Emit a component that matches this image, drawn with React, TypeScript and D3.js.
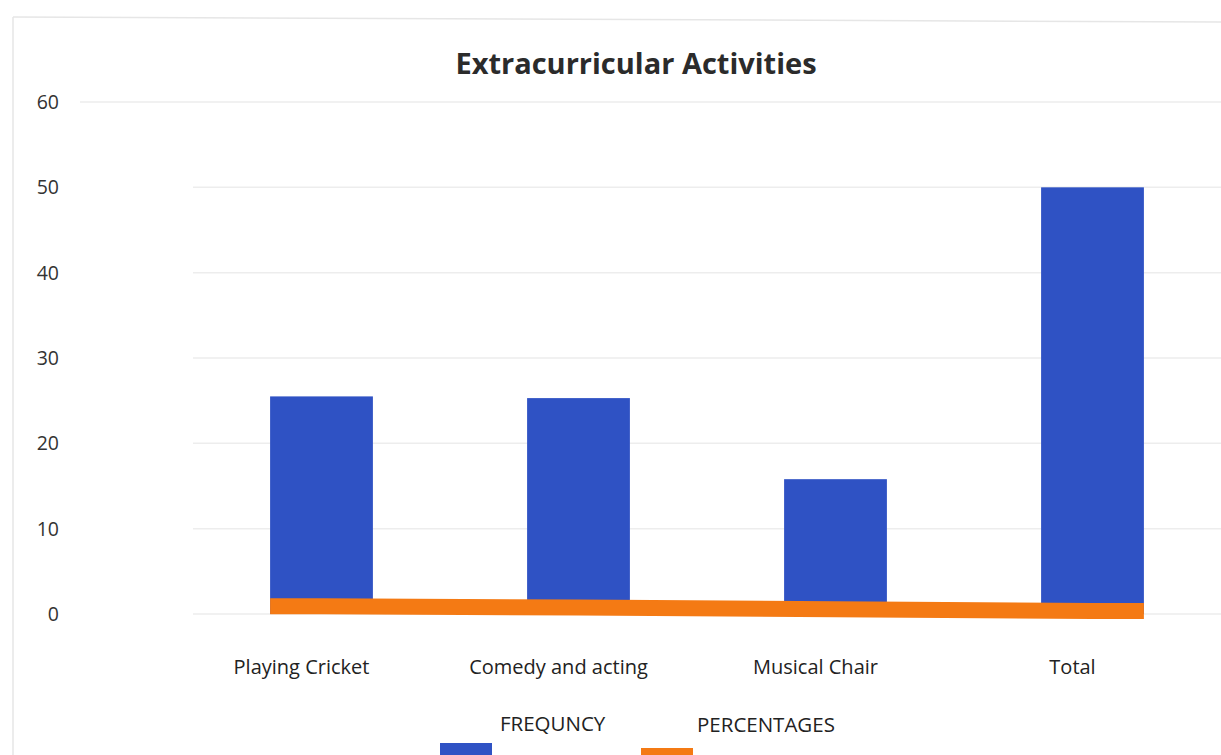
import React from "react";
import * as d3 from "d3";

const categories = ["Playing Cricket", "Comedy and acting", "Musical Chair", "Total"];
const frequency = [25.5, 25.3, 15.8, 50];
const percentages = [0.9, 0.75, 0.55, 0.35];
const yTicks = [0, 10, 20, 30, 40, 50, 60];
const seriesNames = ["FREQUNCY", "PERCENTAGES"];
const title = "Extracurricular Activities";

const W = 1221;
const H = 755;
const BLUE = "#2f52c4";
const ORANGE = "#f47a14";
const FONT = "'Open Sans', 'Noto Sans', sans-serif";

export default function App() {
  const x = d3
    .scaleBand<string>()
    .domain(categories)
    .range([193, 1221])
    .paddingInner(0.6)
    .paddingOuter(0.3);
  const y = d3.scaleLinear().domain([0, 60]).range([614, 102]);

  const first = x(categories[0])!;
  const last = x(categories[categories.length - 1])! + x.bandwidth();
  const linePts: [number, number][] = [];
  categories.forEach((c, i) => {
    if (i === 0) linePts.push([first, y(percentages[i])]);
    linePts.push([x(c)! + x.bandwidth() / 2, y(percentages[i])]);
    if (i === categories.length - 1) linePts.push([last, y(percentages[i])]);
  });
  const line = d3.line().curve(d3.curveLinear)(linePts) || "";

  return (
    <svg
      width={W}
      height={H}
      style={{ position: "absolute", left: 0, top: 0, background: "#ffffff" }}
      fontFamily={FONT}
    >
      <rect x={0} y={0} width={W} height={H} fill="#ffffff" />
      {/* chart border */}
      <line x1={13} y1={17} x2={W} y2={22} stroke="#e6e6e6" strokeWidth={1.5} />
      <line x1={13} y1={17} x2={13} y2={H} stroke="#e6e6e6" strokeWidth={1.5} />

      {/* gridlines */}
      {yTicks.map((t) => (
        <line
          key={"g" + t}
          x1={t === 60 ? 80 : 193}
          x2={W}
          y1={y(t)}
          y2={y(t)}
          stroke="#ededed"
          strokeWidth={1.5}
        />
      ))}

      {/* title */}
      <text x={636} y={74} textAnchor="middle" fontSize={29} fontWeight={700} fill="#2b2b2b">
        {title}
      </text>

      {/* y tick labels */}
      {yTicks.map((t) => (
        <text
          key={"t" + t}
          x={59}
          y={y(t) + 7}
          textAnchor="end"
          fontSize={19.5}
          fill="#333"
        >
          {t}
        </text>
      ))}

      {/* bars */}
      {categories.map((c, i) => (
        <rect
          key={c}
          x={x(c)!}
          y={y(frequency[i])}
          width={x.bandwidth()}
          height={y(0) - y(frequency[i])}
          fill={BLUE}
        />
      ))}

      {/* percentages line */}
      <path d={line} fill="none" stroke={ORANGE} strokeWidth={16} strokeLinecap="butt" />

      {/* category labels */}
      {categories.map((c) => (
        <text
          key={"c" + c}
          x={x(c)! + x.bandwidth() / 2 - 20}
          y={674}
          textAnchor="middle"
          fontSize={20}
          fill="#222"
        >
          {c}
        </text>
      ))}

      {/* legend */}
      <text x={500} y={731} fontSize={20.5} fill="#222">
        {seriesNames[0]}
      </text>
      <rect x={440} y={743} width={52} height={14} fill={BLUE} />
      <text x={697} y={732} fontSize={20.5} fill="#222">
        {seriesNames[1]}
      </text>
      <rect x={641} y={748} width={52} height={10} fill={ORANGE} />
    </svg>
  );
}
